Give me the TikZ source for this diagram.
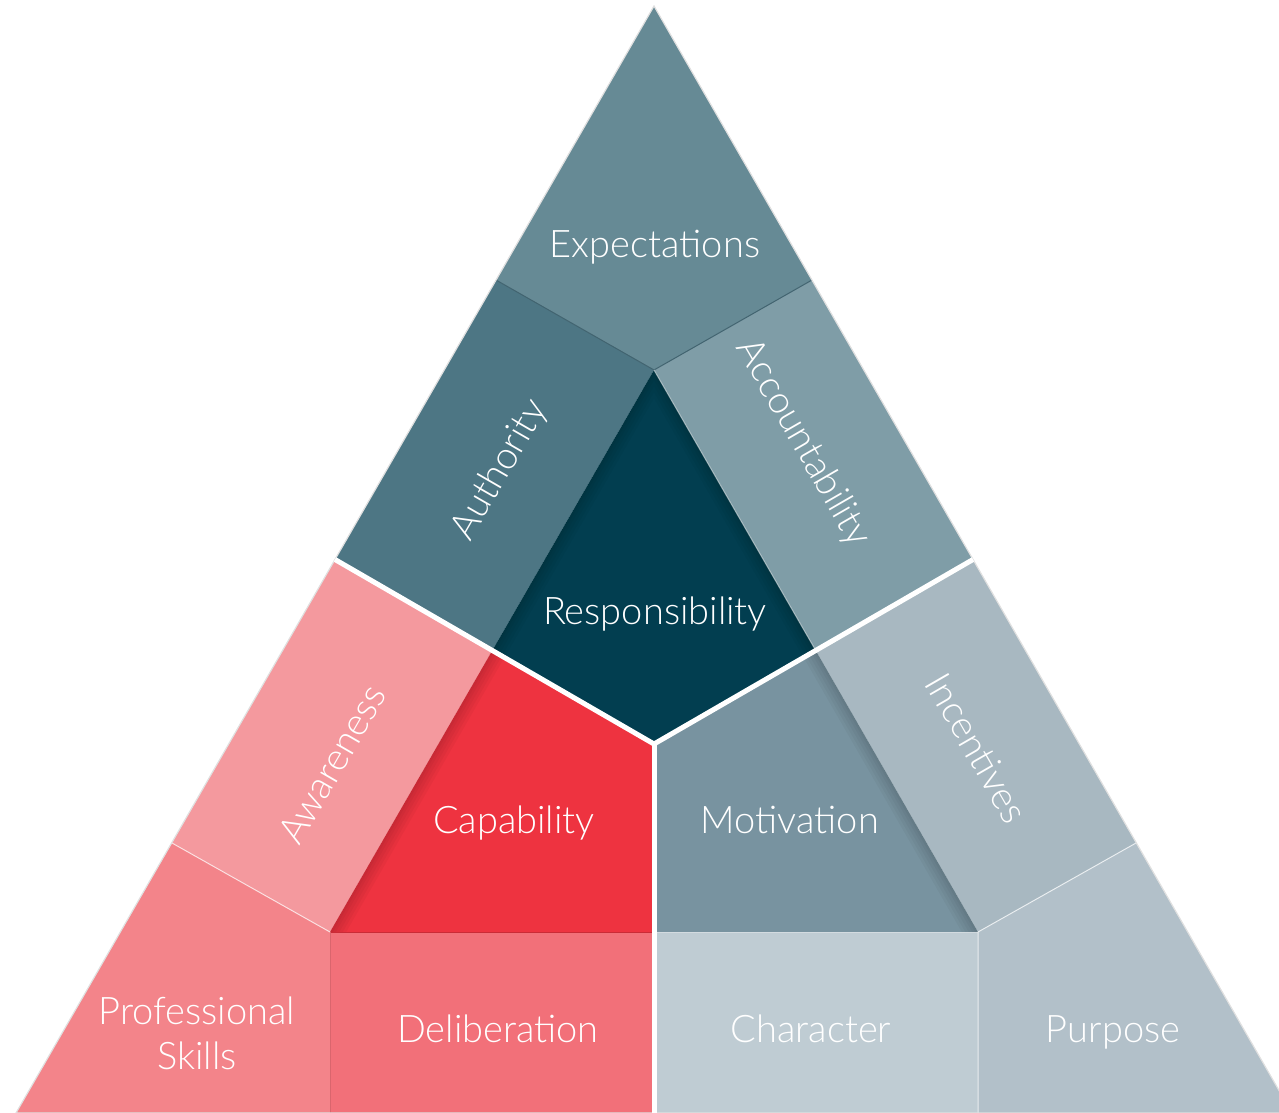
\documentclass[tikz,border=0pt]{standalone}
\usepackage{fontspec}
\IfFontExistsTF{Lato Light}{\setmainfont{Lato Light}}{\setmainfont{Lato}}
\usepackage{xcolor}

\definecolor{expect}{HTML}{668A95}
\definecolor{author}{HTML}{4D7684}
\definecolor{account}{HTML}{7F9DA7}
\definecolor{respons}{HTML}{023E50}
\definecolor{aware}{HTML}{F4999E}
\definecolor{capab}{HTML}{EE3340}
\definecolor{profskill}{HTML}{F3848A}
\definecolor{deliber}{HTML}{F27079}
\definecolor{motiv}{HTML}{7893A0}
\definecolor{incent}{HTML}{A8B8C1}
\definecolor{charac}{HTML}{BFCCD3}
\definecolor{purp}{HTML}{B2C0C9}

\tikzset{
  piecetext/.style={text=white, font=\fontsize{38}{46}\selectfont, align=center, inner sep=0pt},
  gapline/.style={white, line width=5pt},
  seam/.style={line width=1pt},
  shade edge/.style={black, opacity=0.03, line width=#1},
}

\begin{document}
\begin{tikzpicture}[x=1pt, y=-1pt]
\useasboundingbox (0,0) rectangle (1279,1113);

% outer triangle
\coordinate (top) at (654,6);
\coordinate (bl) at (16,1113);
\coordinate (br) at (1292,1113);
\coordinate (ml) at (335,559.5);
\coordinate (mr) at (973,559.5);
\coordinate (bm) at (654,1113);
\coordinate (g) at (654,744);
\coordinate (p1) at (496,280);
\coordinate (p2) at (812,280);
\coordinate (p3) at (172,843);
\coordinate (p4) at (1136,843);
\coordinate (b1) at (330,1113);
\coordinate (b2) at (978,1113);
% inner triangle
\coordinate (itop) at (654,370);
\coordinate (il) at (492,651);
\coordinate (ir) at (816,651);
\coordinate (ibl) at (330,932);
\coordinate (ibr) at (978,932);
\coordinate (ib) at (654,932);

\fill[expect] (top) -- (p2) -- (itop) -- (p1) -- cycle;
\fill[author] (p1) -- (itop) -- (il) -- (ml) -- cycle;
\fill[account] (p2) -- (mr) -- (ir) -- (itop) -- cycle;
\fill[aware] (ml) -- (il) -- (ibl) -- (p3) -- cycle;
\fill[incent] (mr) -- (p4) -- (ibr) -- (ir) -- cycle;
\fill[profskill] (p3) -- (ibl) -- (b1) -- (bl) -- cycle;
\fill[deliber] (ibl) -- (ib) -- (bm) -- (b1) -- cycle;
\fill[charac] (ib) -- (ibr) -- (b2) -- (bm) -- cycle;
\fill[purp] (ibr) -- (p4) -- (br) -- (b2) -- cycle;
\fill[respons] (itop) -- (ir) -- (g) -- (il) -- cycle;
\fill[capab] (il) -- (g) -- (ib) -- (ibl) -- cycle;
\fill[motiv] (ir) -- (ibr) -- (ib) -- (g) -- cycle;

% inner shadows
\begin{scope}
  \clip (itop) -- (ir) -- (g) -- (il) -- cycle;
  \foreach \w in {28,22,16,10,5}
    \draw[shade edge=\w pt] (il) -- (itop) -- (ir);
\end{scope}
\begin{scope}
  \clip (il) -- (g) -- (ib) -- (ibl) -- cycle;
  \foreach \w in {28,22,16,10,5}
    \draw[shade edge=\w pt] (il) -- (ibl);
\end{scope}
\begin{scope}
  \clip (ir) -- (ibr) -- (ib) -- (g) -- cycle;
  \foreach \w in {28,22,16,10,5}
    \draw[shade edge=\w pt] (ir) -- (ibr);
\end{scope}

% seams
\draw[seam, author!85!black] (p1) -- (itop) -- (p2);
\draw[seam, white, opacity=0.7] (p3) -- (ibl);
\draw[seam, white, opacity=0.7] (p4) -- (ibr) -- (b2);
\draw[seam, capab!85!black] (ibl) -- (ib);
\draw[seam, deliber!90!black] (ibl) -- (b1);
\draw[seam, white, opacity=0.4] (ib) -- (ibr);
\draw[seam, white, opacity=0.5] (itop) -- (ir);
\draw[line width=1.2pt, black!12] (top) -- (bl) -- (br) -- cycle;

% white splits
\draw[gapline] (ml) -- (g) -- (mr);
\draw[gapline] (g) -- (bm);

\node[piecetext, anchor=base] (expectations) at (655,257) {Expectations};
\node[piecetext, rotate=60] (authority) at (500,470) {Authority};
\node[piecetext, rotate=-60] (accountability) at (803,443) {Accountability};
\node[piecetext, anchor=base] (responsibility) at (655,624) {Responsibility};
\node[piecetext, rotate=60] (awareness) at (332,764) {Awareness};
\node[piecetext, rotate=-60] (incentives) at (977,748) {Incentives};
\node[piecetext, anchor=base] (capability) at (514,833) {Capability};
\node[piecetext, anchor=base] (motivation) at (790,833) {Motivation};
\node[piecetext, anchor=base] (professional) at (197,1024) {Professional};
\node[piecetext, anchor=base] (skills) at (197,1069) {Skills};
\node[piecetext, anchor=base] (deliberation) at (498,1042) {Deliberation};
\node[piecetext, anchor=base] (character) at (811,1042) {Character};
\node[piecetext, anchor=base] (purpose) at (1113,1042) {Purpose};

\end{tikzpicture}
\end{document}
